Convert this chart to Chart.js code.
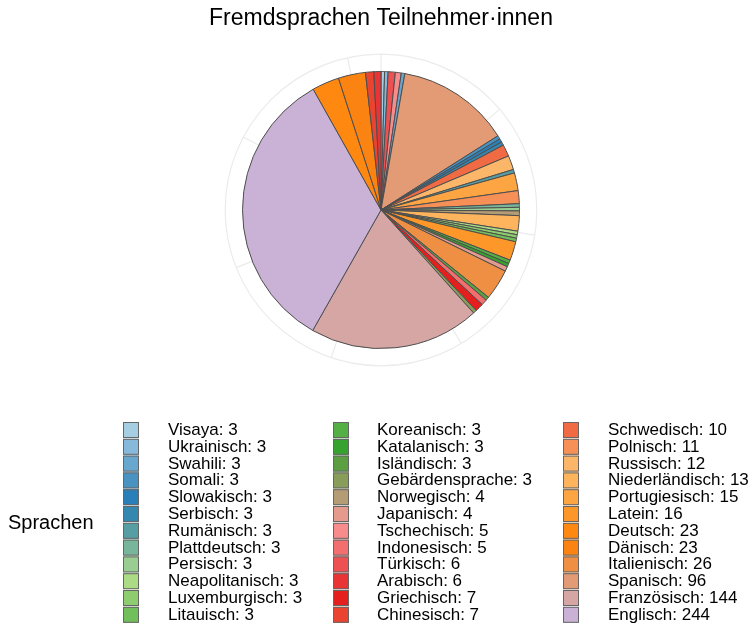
<!DOCTYPE html>
<html><head><meta charset="utf-8">
<script src="https://cdn.jsdelivr.net/npm/chart.js@4"></script>
<style>html,body{margin:0;padding:0;background:#fff}#wrap{width:756px;height:625px;position:relative}</style>
</head><body><div id="wrap"><canvas id="c" width="756" height="625"></canvas></div>
<script>
// Legend order (sorted by count)
const languages = ['Visaya','Ukrainisch','Swahili','Somali','Slowakisch','Serbisch','Rumänisch','Plattdeutsch','Persisch','Neapolitanisch','Luxemburgisch','Litauisch',
  'Koreanisch','Katalanisch','Isländisch','Gebärdensprache','Norwegisch','Japanisch','Tschechisch','Indonesisch','Türkisch','Arabisch','Griechisch','Chinesisch',
  'Schwedisch','Polnisch','Russisch','Niederländisch','Portugiesisch','Latein','Deutsch','Dänisch','Italienisch','Spanisch','Französisch','Englisch'];
const counts = [3,3,3,3,3,3,3,3,3,3,3,3,
  3,3,3,3,4,4,5,5,6,6,7,7,
  10,11,12,13,15,16,23,23,26,96,144,244];
const colors = ['#A6CEE3','#87BADA','#68A7CE','#4993C3','#2B7FB8','#3487AE','#569EA4','#77B69B','#99CD91','#ABDB85','#8ECD6F','#71BF5A',
  '#54B044','#37A22F','#5B9F42','#899D5B','#B69C74','#E49B8D','#F88B8B','#F36E6E','#ED5152','#E83435','#E41F1E','#EA4431',
  '#F06A44','#F69057','#FCB66A','#FDB45C','#FEA543','#FE9729','#FF8810','#FA8312','#EE8F43','#E29B74','#D6A6A5','#CAB2D6'];
// Order of slices, clockwise from 12 o'clock
const sliceOrder = ['Visaya','Ukrainisch','Türkisch','Tschechisch','Swahili','Spanisch','Somali','Slowakisch','Serbisch','Schwedisch','Russisch','Rumänisch',
  'Portugiesisch','Polnisch','Plattdeutsch','Persisch','Norwegisch','Niederländisch','Neapolitanisch','Luxemburgisch','Litauisch','Latein','Koreanisch','Katalanisch',
  'Japanisch','Italienisch','Isländisch','Indonesisch','Griechisch','Gebärdensprache','Französisch','Englisch','Deutsch','Dänisch','Chinesisch','Arabisch'];
const thetaBreaks = [0,100,200,300,400,500,600,700];
const chartTitle = 'Fremdsprachen Teilnehmer·innen';
const legendTitle = 'Sprachen';

const FONT = "'Liberation Sans', Arial, sans-serif";
const sliceValues = sliceOrder.map(n => counts[languages.indexOf(n)]);
const sliceColors = sliceOrder.map(n => colors[languages.indexOf(n)]);

const gridPlugin = {
  id: 'polarGrid',
  beforeDatasetsDraw(chart) {
    const arc = chart.getDatasetMeta(0).data[0];
    if (!arc) return;
    const cx = arc.x, cy = arc.y, r = arc.outerRadius * 1.125;
    const total = chart.data.datasets[0].data.reduce((a, b) => a + b, 0);
    const ctx = chart.ctx;
    ctx.save();
    ctx.strokeStyle = '#EBEBEB';
    ctx.lineWidth = 1.2;
    ctx.beginPath();
    ctx.arc(cx, cy, r, 0, Math.PI * 2);
    ctx.stroke();
    thetaBreaks.forEach(b => {
      const a = -Math.PI / 2 + b / total * Math.PI * 2;
      ctx.beginPath();
      ctx.moveTo(cx, cy);
      ctx.lineTo(cx + r * Math.cos(a), cy + r * Math.sin(a));
      ctx.stroke();
    });
    ctx.restore();
  }
};

const legendPlugin = {
  id: 'ggLegend',
  afterDraw(chart) {
    const ctx = chart.ctx;
    ctx.save();
    const keyX = [123, 333, 563];
    const textX = [168, 377, 608];
    const top = 422, pitch = 16.8, perCol = 12;
    ctx.font = '17px ' + FONT;
    ctx.textBaseline = 'middle';
    ctx.textAlign = 'left';
    languages.forEach((name, i) => {
      const col = Math.floor(i / perCol), row = i % perCol;
      const y = top + row * pitch;
      ctx.fillStyle = colors[i];
      ctx.fillRect(keyX[col], y, 16, 16);
      ctx.strokeStyle = '#666';
      ctx.lineWidth = 1;
      ctx.strokeRect(keyX[col] + 0.5, y + 0.5, 15, 15);
      ctx.fillStyle = '#000';
      ctx.fillText(name + ': ' + counts[i], textX[col], y + 8.4);
    });
    ctx.font = '20px ' + FONT;
    ctx.fillText(legendTitle, 8, 523);
    ctx.restore();
  }
};

new Chart(document.getElementById('c'), {
  type: 'pie',
  data: {
    labels: sliceOrder,
    datasets: [{
      data: sliceValues,
      backgroundColor: sliceColors,
      borderColor: '#4D4D4D',
      borderWidth: 1,
      radius: 138.5
    }]
  },
  options: {
    responsive: false,
    animation: false,
    devicePixelRatio: 1,
    layout: { padding: { left: 6, right: 0, top: 0, bottom: 254.6 } },
    plugins: {
      legend: { display: false },
      tooltip: { enabled: false },
      title: {
        display: true,
        text: chartTitle,
        color: '#000',
        font: { family: FONT, size: 23, weight: 'normal' },
        padding: { top: 5, bottom: 17 }
      }
    }
  },
  plugins: [gridPlugin, legendPlugin]
});
</script></body></html>
